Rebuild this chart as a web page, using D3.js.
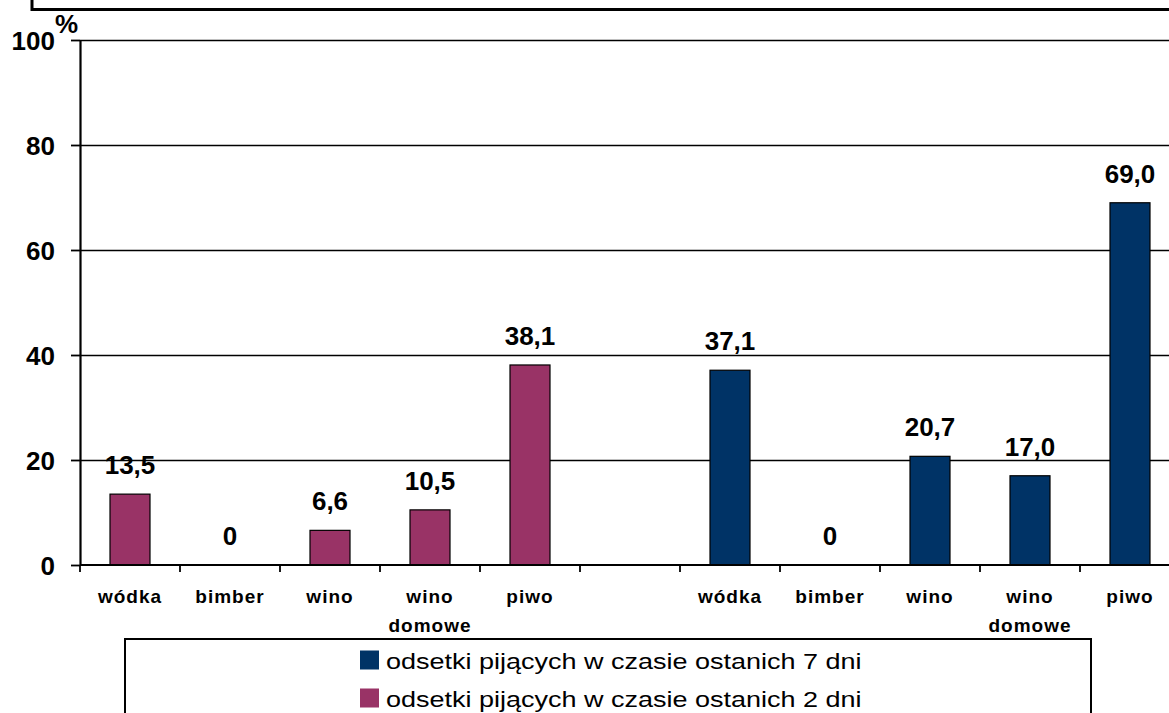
<!DOCTYPE html>
<html><head><meta charset="utf-8">
<script src="https://cdn.jsdelivr.net/npm/d3@7"></script>
<style>
html,body{margin:0;padding:0;background:#fff;}
svg{display:block;font-family:"Liberation Sans",Arial,sans-serif;}
</style></head>
<body><svg id="c" width="1169" height="713"></svg>
<script>
// ---- data ----
const categories = ["wódka","bimber","wino","wino\ndomowe","piwo","","wódka","bimber","wino","wino\ndomowe","piwo"];
const series2dni = [13.5, 0, 6.6, 10.5, 38.1];
const series7dni = [37.1, 0, 20.7, 17.0, 69.0];
const yTicks = [0, 20, 40, 60, 80, 100];
const legendLabels = ["odsetki pijących w czasie ostanich 7 dni", "odsetki pijących w czasie ostanich 2 dni"];
const colors = {d7: "#003366", d2: "#993366"};

(function () {
const svg = d3.select("#c");
const mLeft = 80, mRight = 1180, mTop = 40, mBottom = 565;
const keys = categories.map((c, i) => "k" + i);
const x = d3.scaleBand().domain(keys).range([mLeft, mRight]).paddingInner(0).paddingOuter(0);
const y = d3.scaleLinear().domain([0, 100]).range([mBottom, mTop]);

// bars data
const bars = [];
series2dni.forEach((v, i) => bars.push({key: keys[i], v, color: colors.d2}));
series7dni.forEach((v, i) => bars.push({key: keys[i + 6], v, color: colors.d7}));

// top frame (title box remnant)
svg.append("path").attr("d", "M32,0 L32,9.5 L1169,9.5").attr("fill", "none").attr("stroke", "#000").attr("stroke-width", 3);

// gridlines
const grid = svg.append("g").attr("transform", `translate(${mLeft},0)`)
  .call(d3.axisLeft(y).tickValues(yTicks.filter(t => t > 0)).tickSize(-(mRight - mLeft)).tickFormat(""));
grid.select(".domain").remove();
grid.selectAll(".tick line").attr("stroke", "#000").attr("stroke-width", 1.6);

// bars
const bw = 40;
svg.append("g").selectAll("rect").data(bars).join("rect")
  .attr("x", d => x(d.key) + x.bandwidth() / 2 - bw / 2)
  .attr("width", bw)
  .attr("y", d => y(d.v))
  .attr("height", d => y(0) - y(d.v))
  .attr("fill", d => d.color)
  .attr("stroke", "#000").attr("stroke-width", d => d.v > 0 ? 1.2 : 0);

// value labels
const fmt = v => v === 0 ? "0" : v.toFixed(1).replace(".", ",");
svg.append("g").selectAll("text").data(bars).join("text")
  .attr("x", d => x(d.key) + x.bandwidth() / 2)
  .attr("y", d => y(d.v) - 20)
  .attr("text-anchor", "middle")
  .attr("font-size", 26).attr("font-weight", "bold").attr("fill", "#000")
  .text(d => fmt(d.v));

// y axis
const ya = svg.append("g").attr("transform", `translate(${mLeft},0)`)
  .call(d3.axisLeft(y).tickValues(yTicks).tickSize(9).tickSizeOuter(0).tickPadding(16));
ya.select(".domain").attr("stroke", "#000").attr("stroke-width", 2.2);
ya.selectAll(".tick line").attr("stroke", "#000").attr("stroke-width", 1.8);
ya.selectAll(".tick text").attr("font-size", 26).attr("font-weight", "bold").attr("fill", "#000")
  .attr("font-family", "Liberation Sans, Arial, sans-serif").attr("dy", "0.36em");
svg.append("text").attr("x", 55).attr("y", 33).attr("font-size", 26).attr("font-weight", "bold").text("%");

// x axis
const xa = svg.append("g").attr("transform", `translate(0,${mBottom})`);
xa.append("line").attr("x1", mLeft).attr("x2", mRight).attr("y1", 0).attr("y2", 0).attr("stroke", "#000").attr("stroke-width", 2.2);
const tickPos = keys.map(k => x(k)).concat([mRight]);
xa.selectAll("line.t").data(tickPos).join("line").attr("class", "t")
  .attr("x1", d => d).attr("x2", d => d).attr("y1", 0).attr("y2", 7).attr("stroke", "#000").attr("stroke-width", 1.8);
const xl = xa.selectAll("text").data(categories).join("text")
  .attr("x", (d, i) => x(keys[i]) + x.bandwidth() / 2)
  .attr("y", 38)
  .attr("text-anchor", "middle")
  .attr("font-size", 19).attr("font-weight", "bold").attr("letter-spacing", 1).attr("fill", "#000");
xl.each(function(d) {
  const lines = d.split("\n");
  const t = d3.select(this);
  lines.forEach((ln, j) => t.append("tspan").attr("x", t.attr("x")).attr("dy", j === 0 ? 0 : 29).text(ln));
});

// legend
const lg = svg.append("g");
lg.append("rect").attr("x", 125).attr("y", 639).attr("width", 966).attr("height", 100)
  .attr("fill", "#fff").attr("stroke", "#000").attr("stroke-width", 2);
const legendColors = [colors.d7, colors.d2];
legendLabels.forEach((lab, i) => {
  const cy = 660 + i * 38;
  lg.append("rect").attr("x", 360).attr("y", cy - 9.5).attr("width", 19).attr("height", 19).attr("fill", legendColors[i]);
  lg.append("text").attr("transform", `translate(386,${cy + 9}) scale(1.2,1)`)
    .attr("font-size", 22.5).attr("fill", "#000").text(lab);
});
})();
</script></body></html>
